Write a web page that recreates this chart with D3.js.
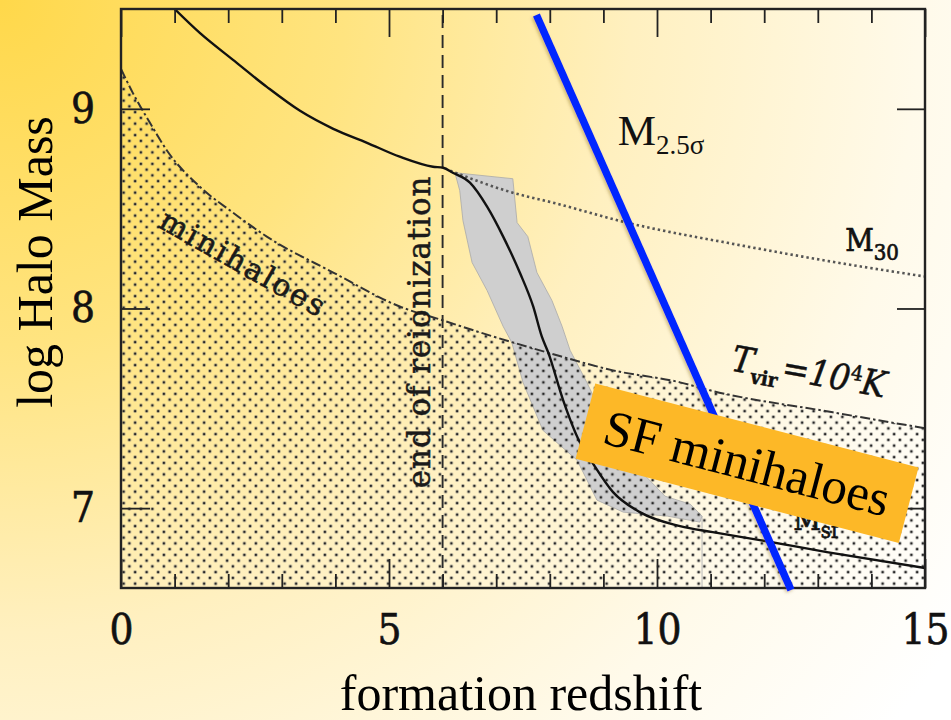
<!DOCTYPE html>
<html>
<head>
<meta charset="utf-8">
<script src="https://cdn.jsdelivr.net/npm/d3@7"></script>
<style>
  html, body { margin: 0; padding: 0; background: #fff; }
  svg { display: block; }
</style>
</head>
<body>
<svg id="chart" width="951" height="720"></svg>
<script>
// ---- data -------------------------------------------------------------
// axis ticks (formation redshift z, log halo mass)
const xMajorTicks = [0, 5, 10, 15];
const xMinorTicks = [1, 2, 3, 4, 6, 7, 8, 9, 11, 12, 13, 14];
const yTicks = [7, 8, 9];

// minimum mass for star formation, M_sf  [z, log M]
const mSfCurve = [
  [1.00, 9.50], [1.47, 9.38], [2.09, 9.245], [2.72, 9.11], [3.34, 8.99],
  [3.96, 8.90], [4.59, 8.83], [5.20, 8.76], [5.82, 8.71], [6.01, 8.705],
  [6.19, 8.68], [6.51, 8.63], [6.83, 8.51], [7.13, 8.36], [7.44, 8.18],
  [7.69, 8.01], [7.85, 7.86], [7.97, 7.78], [8.25, 7.54], [8.56, 7.33],
  [8.79, 7.23], [9.18, 7.08], [9.68, 6.98], [10.43, 6.91], [11.04, 6.88],
  [11.92, 6.84], [13.17, 6.78], [15.00, 6.70]
];

// virial temperature of 10^4 K  [z, log M]
const tVirCurve = [
  [0.00, 9.20], [0.22, 9.08], [0.54, 8.93], [0.86, 8.79], [1.47, 8.61],
  [2.09, 8.48], [2.72, 8.36], [3.96, 8.18], [5.20, 8.01], [6.01, 7.94],
  [6.70, 7.88], [7.95, 7.78], [9.18, 7.69], [10.43, 7.63], [10.99, 7.59],
  [13.28, 7.48], [15.00, 7.40]
];

// M_30 mass scale  [z, log M]
const m30Curve = [
  [6.14, 8.69], [7.31, 8.58], [8.06, 8.53], [9.44, 8.43], [11.49, 8.32],
  [13.36, 8.23], [15.00, 8.16]
];

// scatter band around the M_sf transition: left edge (top to bottom)
const bandLeft = [
  [6.23, 8.68], [6.32, 8.59], [6.38, 8.44], [6.55, 8.23], [6.83, 8.09],
  [7.13, 7.91], [7.29, 7.83], [7.50, 7.63], [7.87, 7.39], [8.51, 7.24],
  [8.88, 7.04], [9.37, 6.98], [10.19, 6.96], [10.80, 6.93]
];
// ... and right edge (bottom to top)
const bandRight = [
  [10.84, 6.96], [10.62, 7.02], [10.15, 7.06], [9.68, 7.19], [9.31, 7.32],
  [8.94, 7.49], [8.69, 7.63], [8.38, 7.79], [8.23, 7.91], [8.04, 8.04],
  [7.76, 8.18], [7.59, 8.36], [7.39, 8.43], [7.31, 8.65]
];

// end of reionization
const reionizationZ = 6;

// 2.5 sigma fluctuation mass, straight line  [z, log M]
const m25SigmaLine = [[7.75, 9.47], [12.50, 6.59]];

// text annotations: [z, log M] anchor, rotation in degrees
const labelMinihaloes = { text: "minihaloes", at: [0.67, 8.41], angle: 29.4 };
const labelReion = { text: "end of reionization", at: [5.76, 7.10], angle: -90 };
const labelM30 = { main: "M", sub: "30", at: [13.51, 8.29] };
const labelMsf = { main: "M", sub: "sf", at: [12.54, 6.89] };
const labelTvir = { at: [11.36, 7.69], angle: 10 };
const labelM25 = { main: "M", sub: "2.5σ", at: [9.27, 8.82] };
const calloutBox = { text: "SF minihaloes", at: [11.68, 7.225], angle: 14.6 };

const xTitle = "formation redshift";
const yTitle = "log Halo Mass";

// ---- layout -----------------------------------------------------------
const W = 951, H = 720;
const plot = { left: 121, right: 925, top: 9, bottom: 588 };
const zDomain = [0, 15];
const mDomain = [6.6, 9.5];

const x = d3.scaleLinear().domain(zDomain).range([plot.left, plot.right]);
const y = d3.scaleLinear().domain(mDomain).range([plot.bottom, plot.top]);

const svg = d3.select("#chart");
const defs = svg.append("defs");

// warm backdrop
const bg = defs.append("radialGradient")
  .attr("id", "bg").attr("gradientUnits", "userSpaceOnUse")
  .attr("cx", 0).attr("cy", 0).attr("r", 1150);
[[0, "#FFD84A"], [0.3, "#FFE480"], [0.55, "#FFF0C0"], [0.8, "#FFFAEA"], [1, "#FFFFFF"]]
  .forEach(([o, c]) => bg.append("stop").attr("offset", o).attr("stop-color", c));

// stipple fill for the minihalo region
const pat = defs.append("pattern")
  .attr("id", "stipple").attr("patternUnits", "userSpaceOnUse")
  .attr("width", 11.5).attr("height", 11.5);
[[2.9, 2.9], [8.65, 8.65]].forEach(([cx, cy]) => {
  pat.append("circle").attr("cx", cx).attr("cy", cy).attr("r", 2.0)
    .attr("fill", "#808080").attr("opacity", 0.5);
  pat.append("circle").attr("cx", cx).attr("cy", cy).attr("r", 1.2)
    .attr("fill", "#262626");
});

defs.append("clipPath").attr("id", "plotClip")
  .append("rect")
  .attr("x", plot.left).attr("y", plot.top)
  .attr("width", plot.right - plot.left).attr("height", plot.bottom - plot.top);

const shadow = defs.append("filter").attr("id", "shadow")
  .attr("x", "-20%").attr("y", "-20%").attr("width", "140%").attr("height", "140%");
shadow.append("feDropShadow")
  .attr("dx", -1.5).attr("dy", 1.5).attr("stdDeviation", 1.6)
  .attr("flood-color", "#7a5a00").attr("flood-opacity", 0.35);

svg.append("rect").attr("width", W).attr("height", H).attr("fill", "url(#bg)");

const inner = svg.append("g").attr("clip-path", "url(#plotClip)");

const smooth = d3.line().x(d => x(d[0])).y(d => y(d[1])).curve(d3.curveMonotoneX);
const straight = d3.line().x(d => x(d[0])).y(d => y(d[1]));

// scatter band
inner.append("path")
  .attr("d", straight(bandLeft.concat(bandRight)) + "Z")
  .attr("fill", "#cfcfcf").attr("stroke", "#a9a9a9").attr("stroke-width", 0.8);

// stippled region below T_vir = 10^4 K
const under = d3.area()
  .x(d => x(d[0])).y0(y(mDomain[0])).y1(d => y(d[1]))
  .curve(d3.curveMonotoneX);
inner.append("path").attr("d", under(tVirCurve)).attr("fill", "url(#stipple)");

// faint edge left by the band
inner.append("line")
  .attr("x1", x(bandRight[0][0])).attr("x2", x(bandRight[0][0]))
  .attr("y1", y(mDomain[0])).attr("y2", y(bandRight[0][1]))
  .attr("stroke", "#b8b8b8").attr("stroke-width", 1);

// end of reionization
inner.append("line")
  .attr("x1", x(reionizationZ)).attr("x2", x(reionizationZ))
  .attr("y1", y(mDomain[0])).attr("y2", y(mDomain[1]))
  .attr("stroke", "#2a2a2a").attr("stroke-width", 1.9)
  .attr("stroke-dasharray", "13,7");

inner.append("path").attr("d", smooth(tVirCurve))
  .attr("fill", "none").attr("stroke", "#333").attr("stroke-width", 2)
  .attr("stroke-dasharray", "10,3,2.5,3");

inner.append("path").attr("d", smooth(m30Curve))
  .attr("fill", "none").attr("stroke", "#555").attr("stroke-width", 2.6)
  .attr("stroke-dasharray", "2.4,3");

inner.append("path").attr("d", smooth(mSfCurve))
  .attr("fill", "none").attr("stroke", "#111").attr("stroke-width", 2.4);

// ---- frame and ticks --------------------------------------------------
const tickFont = "'DejaVu Serif Condensed', 'DejaVu Serif', serif";

function styleAxis(g) {
  g.select(".domain").remove();
  g.selectAll(".tick line").attr("stroke", "#222").attr("stroke-width", 1.8);
}

svg.append("g").attr("transform", `translate(0,${plot.bottom})`)
  .call(d3.axisBottom(x).tickValues(xMajorTicks).tickSize(-29).tickPadding(26)
    .tickFormat(d3.format("d")))
  .call(styleAxis)
  .call(g => g.selectAll(".tick text")
    .attr("font-family", tickFont).style("font-stretch", "condensed")
    .attr("font-size", 42).attr("fill", "#111")
    .attr("stroke", "#111").attr("stroke-width", 0.6));

svg.append("g").attr("transform", `translate(0,${plot.bottom})`)
  .call(d3.axisBottom(x).tickValues(xMinorTicks).tickSize(-14).tickFormat(""))
  .call(styleAxis);

svg.append("g").attr("transform", `translate(0,${plot.top})`)
  .call(d3.axisTop(x).tickValues(xMajorTicks).tickSize(-28).tickFormat(""))
  .call(styleAxis);

svg.append("g").attr("transform", `translate(0,${plot.top})`)
  .call(d3.axisTop(x).tickValues(xMinorTicks).tickSize(-14).tickFormat(""))
  .call(styleAxis);

svg.append("g").attr("transform", `translate(${plot.left},0)`)
  .call(d3.axisLeft(y).tickValues(yTicks).tickSize(-29).tickPadding(26)
    .tickFormat(d3.format("d")))
  .call(styleAxis)
  .call(g => g.selectAll(".tick text")
    .attr("font-family", tickFont).style("font-stretch", "condensed")
    .attr("font-size", 42).attr("fill", "#111")
    .attr("stroke", "#111").attr("stroke-width", 0.6));

svg.append("g").attr("transform", `translate(${plot.right},0)`)
  .call(d3.axisRight(y).tickValues(yTicks).tickSize(-28).tickFormat(""))
  .call(styleAxis);

svg.append("rect")
  .attr("x", plot.left).attr("y", plot.top)
  .attr("width", plot.right - plot.left).attr("height", plot.bottom - plot.top)
  .attr("fill", "none").attr("stroke", "#222").attr("stroke-width", 2.4);

// ---- in-figure labels -------------------------------------------------
const serifFig = "'DejaVu Serif', serif";
const place = (p, a) => `translate(${x(p[0])},${y(p[1])}) rotate(${a || 0})`;

svg.append("text")
  .attr("transform", place(labelMinihaloes.at, labelMinihaloes.angle))
  .attr("font-family", serifFig).attr("font-size", 30)
  .attr("letter-spacing", 2.2).attr("fill", "#1a1a1a")
  .attr("stroke", "#1a1a1a").attr("stroke-width", 0.6)
  .text(labelMinihaloes.text);

svg.append("text")
  .attr("transform", place(labelReion.at, labelReion.angle))
  .attr("font-family", serifFig).attr("font-size", 31)
  .attr("letter-spacing", 0.9)
  .attr("fill", "#1a1a1a").attr("stroke", "#1a1a1a").attr("stroke-width", 0.5)
  .text(labelReion.text);

function subLabel(lbl, font, size, subSize, shift, extra) {
  const t = svg.append("text")
    .attr("transform", place(lbl.at, lbl.angle))
    .attr("font-family", font).attr("fill", "#111");
  if (extra) extra(t);
  t.append("tspan").attr("font-size", size).text(lbl.main);
  t.append("tspan").attr("font-size", subSize).attr("dy", shift).text(lbl.sub);
  return t;
}

subLabel(labelM30, tickFont, 31, 22, 9, t => t.style("font-stretch", "condensed")
  .attr("stroke", "#111").attr("stroke-width", 0.7));
subLabel(labelMsf, tickFont, 30, 22, 8, t => t.style("font-stretch", "condensed")
  .attr("stroke", "#111").attr("stroke-width", 0.7));

// T_vir = 10^4 K
{
  const t = svg.append("text")
    .attr("transform", place(labelTvir.at, labelTvir.angle))
    .attr("font-family", tickFont).style("font-stretch", "condensed")
    .attr("font-style", "italic").attr("fill", "#111")
    .attr("stroke", "#111").attr("stroke-width", 0.5);
  t.append("tspan").attr("font-size", 36).text("T");
  t.append("tspan").attr("font-size", 20).attr("font-weight", "bold")
    .attr("font-style", "normal").attr("dy", 9).text("vir");
  t.append("tspan").attr("font-size", 36).attr("dy", -9).attr("dx", 3).text("=10");
  t.append("tspan").attr("font-size", 21).attr("dy", -12).attr("font-style", "normal").text("4");
  t.append("tspan").attr("font-size", 36).attr("dy", 12).text("K");
}

// ---- 2.5 sigma line ---------------------------------------------------
svg.append("path").attr("d", straight(m25SigmaLine))
  .attr("fill", "none").attr("stroke", "#0026FF").attr("stroke-width", 7.5)
  .attr("filter", "url(#shadow)");

subLabel(labelM25, "'Liberation Serif', 'Times New Roman', serif", 43, 27, 9);

// ---- callout box ------------------------------------------------------
{
  const g = svg.append("g").attr("transform", place(calloutBox.at, calloutBox.angle));
  g.append("rect").attr("x", -167).attr("y", -39).attr("width", 334).attr("height", 78)
    .attr("fill", "#FDB827");
  g.append("text").attr("x", 0).attr("y", 17).attr("text-anchor", "middle")
    .attr("font-family", "'Liberation Serif', 'Times New Roman', serif")
    .attr("font-size", 51).attr("fill", "#000").text(calloutBox.text);
}

// ---- axis titles ------------------------------------------------------
svg.append("text")
  .attr("x", (plot.left + plot.right) / 2 - 2).attr("y", 710)
  .attr("text-anchor", "middle")
  .attr("font-family", "'Liberation Serif', 'Times New Roman', serif")
  .attr("font-size", 50).attr("fill", "#000").text(xTitle);

svg.append("text")
  .attr("transform", "translate(52,262) rotate(-90)")
  .attr("text-anchor", "middle")
  .attr("font-family", "'Liberation Serif', 'Times New Roman', serif")
  .attr("font-size", 50).attr("fill", "#000").text(yTitle);
</script>
</body>
</html>
